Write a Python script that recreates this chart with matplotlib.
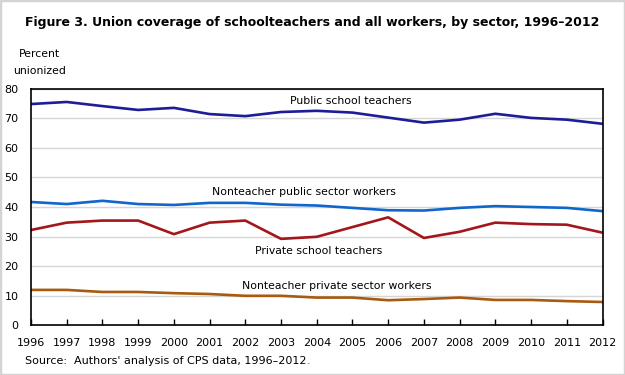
import matplotlib
matplotlib.use('Agg')
import matplotlib.pyplot as plt
from matplotlib.patches import Rectangle

years = list(range(1996, 2013))

public_teachers = [74.9, 75.6, 74.2, 72.9, 73.6, 71.5, 70.8, 72.2, 72.6, 72.0,
                   70.3, 68.6, 69.6, 71.6, 70.2, 69.6, 68.2]
nonteacher_public = [41.7, 41.0, 42.1, 41.0, 40.7, 41.4, 41.4, 40.8, 40.5, 39.7,
                     38.9, 38.8, 39.7, 40.3, 40.0, 39.7, 38.6]
private_teachers = [32.2, 34.7, 35.4, 35.4, 30.8, 34.7, 35.4, 29.2, 29.9, 33.2,
                    36.5, 29.5, 31.6, 34.7, 34.2, 34.0, 31.3]
nonteacher_private = [11.9, 11.9, 11.2, 11.2, 10.8, 10.5, 9.9, 9.9, 9.3, 9.3,
                      8.4, 8.8, 9.3, 8.5, 8.5, 8.1, 7.8]

series = [
    ('Public school teachers', public_teachers, '#1d1d98', 2004.95, 76.0),
    ('Nonteacher public sector workers', nonteacher_public, '#1166cc', 2003.65, 45.2),
    ('Private school teachers', private_teachers, '#a3161a', 2004.05, 25.2),
    ('Nonteacher private sector workers', nonteacher_private, '#a85a10', 2004.55, 13.3),
]

plt.rcParams['font.family'] = 'DejaVu Sans'

fig = plt.figure(figsize=(6.25, 3.75), dpi=100)
fig.patches.append(Rectangle((0, 0), 1, 1, transform=fig.transFigure, fill=False,
                             edgecolor='#d4d4d4', linewidth=2.5, zorder=10))
ax = fig.add_axes([0.0496, 0.1333, 0.9144, 0.6294])

for name, vals, color, lx, ly in series:
    ax.plot(years, vals, color=color, linewidth=1.9, solid_joinstyle='round')
    ax.text(lx, ly, name, ha='center', va='center', fontsize=7.8, color='black')

ax.set_xlim(1996, 2012)
ax.set_ylim(0, 80)
ax.set_yticks(range(0, 81, 10))
ax.set_xticks(years)
ax.grid(axis='y', color='#d6d6d6', linewidth=1)
ax.set_axisbelow(True)
for s in ax.spines.values():
    s.set_linewidth(1.2)
    s.set_color('black')
ax.tick_params(axis='y', length=0, pad=9, labelsize=8)
ax.tick_params(axis='x', direction='in', length=4, width=1, pad=9, labelsize=8)

fig.text(0.5, 0.94, 'Figure 3. Union coverage of schoolteachers and all workers, by sector, 1996\u20132012',
         ha='center', va='center', fontsize=9.0, fontweight='bold')
fig.text(0.063, 0.855, 'Percent', ha='center', va='center', fontsize=7.8)
fig.text(0.063, 0.81, 'unionized', ha='center', va='center', fontsize=7.8)

src = fig.text(0.04, 0.037, 'Source:  Authors\' analysis of CPS data, 1996\u20132012',
               ha='left', va='center', fontsize=8)
fig.canvas.draw()
bb = src.get_window_extent()
fig.text(bb.x1 / fig.bbox.width, 0.037, '.', ha='left', va='center', fontsize=8, color='red')

fig.savefig('out.png', dpi=100)
